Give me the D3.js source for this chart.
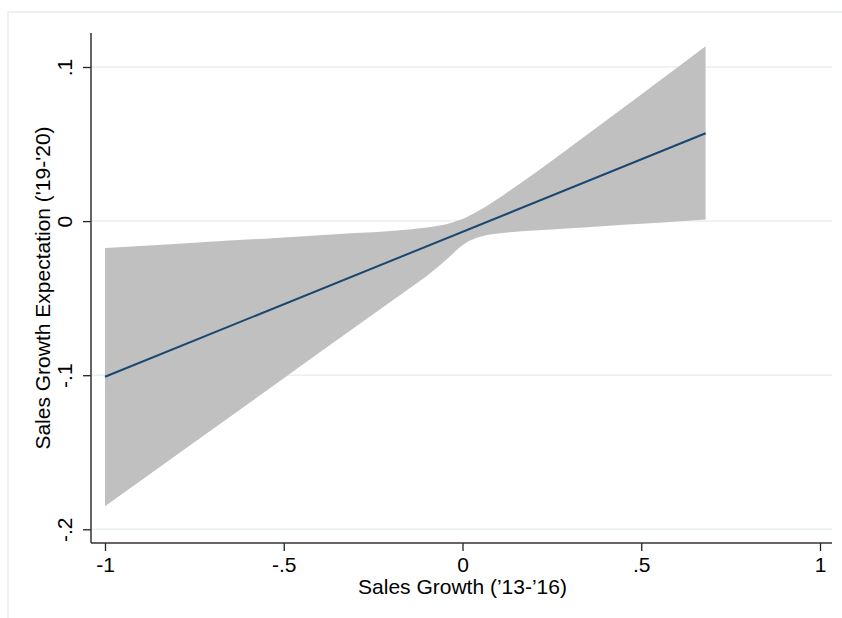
<!DOCTYPE html>
<html>
<head>
<meta charset="utf-8">
<script src="https://cdn.jsdelivr.net/npm/d3@7"></script>
<style>
  html, body { margin: 0; padding: 0; background: #fff; }
  svg { display: block; }
  text { font-family: "Liberation Sans", Arial, Helvetica, sans-serif; fill: #000; }
</style>
</head>
<body>
<svg id="chart" width="842" height="618"></svg>
<script>
// ---- data ----
const xTicks = [-1, -0.5, 0, 0.5, 1];
const xTickLabels = ["-1", "-.5", "0", ".5", "1"];
const yTicks = [-0.2, -0.1, 0, 0.1];
const yTickLabels = ["-.2", "-.1", "0", ".1"];
const xTitle = "Sales Growth (\u201913-\u201916)";
const yTitle = "Sales Growth Expectation ('19-'20)";

// confidence band (x, upper, lower)
const bandX     = [-1, -0.75, -0.5, -0.3, -0.2, -0.15, -0.1, -0.06, -0.03, -0.01, 0.01, 0.03, 0.05, 0.08, 0.12, 0.15, 0.2, 0.3, 0.4, 0.5, 0.6, 0.68];
const bandUpper = [-0.0175, -0.0141, -0.0106, -0.0078, -0.0064, -0.0055, -0.0042, -0.0027, -0.0010, 0.0005, 0.0024, 0.0047, 0.0073, 0.0116, 0.0178, 0.0226, 0.0307, 0.0477, 0.0650, 0.0822, 0.0995, 0.1134];
const bandLower = [-0.185, -0.1435, -0.102, -0.0688, -0.0522, -0.0439, -0.0356, -0.0280, -0.0218, -0.0175, -0.0140, -0.0117, -0.0101, -0.0086, -0.0075, -0.0069, -0.0061, -0.0046, -0.0031, -0.0017, -0.0002, 0.0010];

// fitted line
const lineX = [-1, 0.68];
const lineY = [-0.101, 0.057];

// ---- drawing ----
const svg = d3.select("#chart");
const x = d3.scaleLinear().domain([-1, 1]).range([105, 820]);
const y = d3.scaleLinear().domain([-0.2, 0.1]).range([529.3, 67]);
const plotLeft = 91, plotRight = 832, plotTop = 33, plotBottom = 543;

// outer frame
svg.append("rect")
  .attr("x", 8).attr("y", 12).attr("width", 900).attr("height", 620)
  .attr("fill", "none").attr("stroke", "#e6eef0").attr("stroke-width", 1.5);

// gridlines
svg.append("g").selectAll("line").data(yTicks).join("line")
  .attr("x1", plotLeft).attr("x2", plotRight)
  .attr("y1", d => y(d)).attr("y2", d => y(d))
  .attr("stroke", "#e8f0f2").attr("stroke-width", 1.5);

// band
const bandData = bandX.map((v, i) => ({x: v, u: bandUpper[i], l: bandLower[i]}));
svg.append("path")
  .datum(bandData)
  .attr("d", d3.area()
    .x(d => x(d.x)).y0(d => y(d.l)).y1(d => y(d.u))
    .curve(d3.curveMonotoneX))
  .attr("fill", "#c0c0c0");

// fitted line
const lineData = lineX.map((v, i) => ({x: v, y: lineY[i]}));
svg.append("path")
  .datum(lineData)
  .attr("d", d3.line().x(d => x(d.x)).y(d => y(d.y)))
  .attr("fill", "none").attr("stroke", "#1a476f").attr("stroke-width", 2);

// x axis
const xAxis = d3.axisBottom(x).tickValues(xTicks).tickFormat((d, i) => xTickLabels[i])
  .tickSizeOuter(0).tickSize(8).tickPadding(4);
const gx = svg.append("g").attr("transform", `translate(0,${plotBottom})`).call(xAxis);
gx.select(".domain").remove();
gx.selectAll(".tick line").attr("stroke", "#222").attr("stroke-width", 1.3);
gx.selectAll(".tick text").attr("font-size", 21).attr("fill", "#000")
  .attr("dy", null).attr("y", 29);
svg.append("line").attr("x1", plotLeft).attr("x2", plotRight)
  .attr("y1", plotBottom).attr("y2", plotBottom)
  .attr("stroke", "#333").attr("stroke-width", 1.5);

// y axis
const yAxis = d3.axisLeft(y).tickValues(yTicks).tickFormat((d, i) => yTickLabels[i])
  .tickSizeOuter(0).tickSize(8);
const gy = svg.append("g").attr("transform", `translate(${plotLeft},0)`).call(yAxis);
gy.select(".domain").remove();
gy.selectAll(".tick line").attr("stroke", "#222").attr("stroke-width", 1.3);
gy.selectAll(".tick text")
  .attr("font-size", 21).attr("fill", "#000")
  .attr("x", null).attr("dy", null)
  .attr("text-anchor", "middle")
  .attr("transform", `translate(${72 - plotLeft},0) rotate(-90)`)
  .attr("y", 0);
svg.append("line").attr("x1", plotLeft).attr("x2", plotLeft)
  .attr("y1", plotTop).attr("y2", plotBottom)
  .attr("stroke", "#333").attr("stroke-width", 1.5);

// axis titles
svg.append("text")
  .attr("x", x(0)).attr("y", 594)
  .attr("text-anchor", "middle").attr("font-size", 21)
  .text(xTitle);
svg.append("text")
  .attr("transform", `translate(50,${(plotTop + plotBottom) / 2}) rotate(-90)`)
  .attr("text-anchor", "middle").attr("font-size", 21)
  .text(yTitle);
</script>
</body>
</html>
